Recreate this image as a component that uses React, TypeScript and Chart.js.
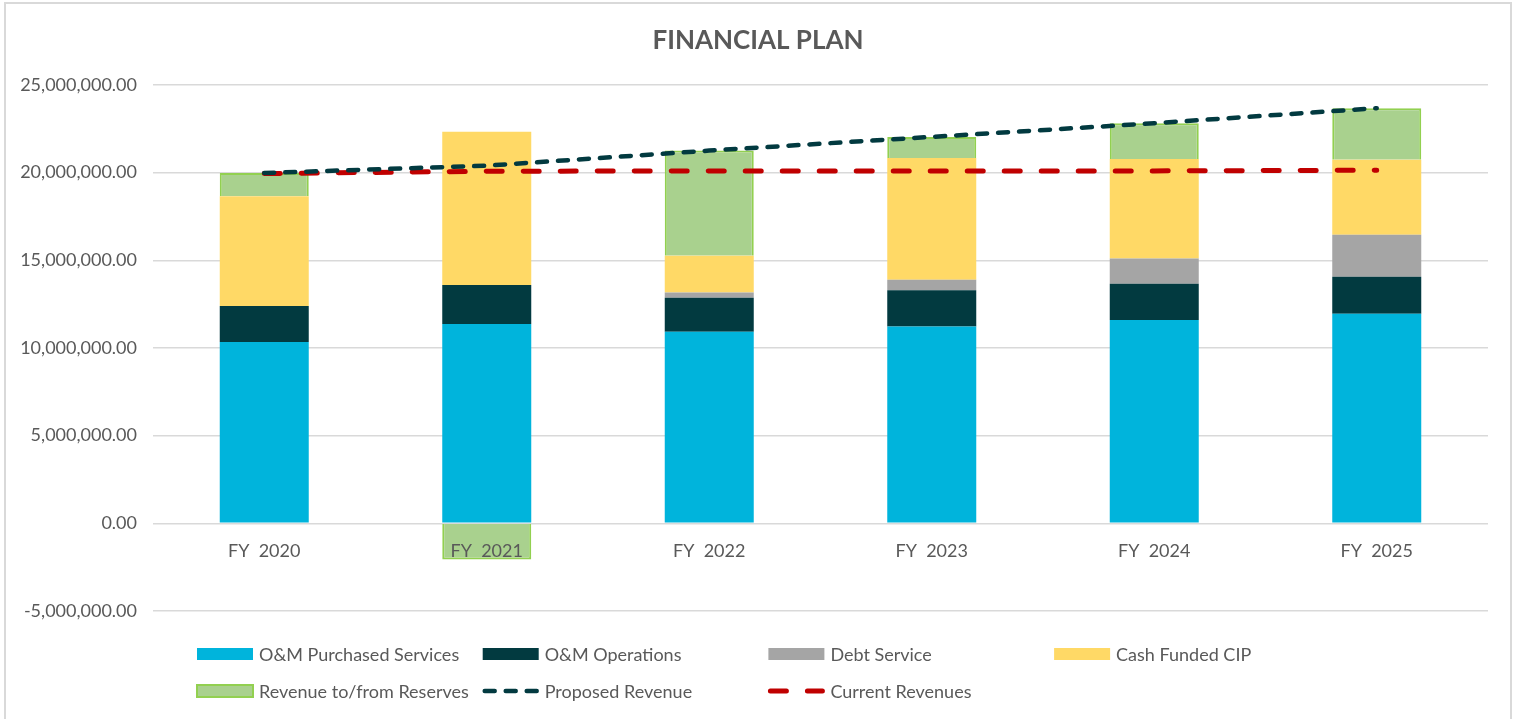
import React, { useEffect, useRef } from "react";
import { Chart, registerables } from "chart.js";

Chart.register(...registerables);

const categories = ["FY  2020", "FY  2021", "FY  2022", "FY  2023", "FY  2024", "FY  2025"];
const purchasedServices = [10340000, 11370000, 10930000, 11220000, 11600000, 11960000];
const operations = [2060000, 2230000, 1940000, 2080000, 2060000, 2110000];
const debtService = [0, 0, 290000, 590000, 1440000, 2390000];
const cashFundedCIP = [6250000, 8730000, 2100000, 6950000, 5680000, 4280000];
const reserves = [1330000, -2060000, 6000000, 1200000, 2040000, 2940000];
const proposedRevenue = [19980000, 20400000, 21260000, 22040000, 22820000, 23680000];
const currentRevenues = [19950000, 20080000, 20100000, 20100000, 20100000, 20140000];
const yTicks = [-5000000, 0, 5000000, 10000000, 15000000, 20000000, 25000000];

const FONT = "Lato, 'Open Sans', sans-serif";
const TEXT = "#595959";

const frameAndLegend = {
  id: "frameAndLegend",
  beforeDraw(chart: any) {
    const ctx = chart.ctx;
    ctx.save();
    ctx.fillStyle = "#ffffff";
    ctx.fillRect(0, 0, chart.width, chart.height);
    ctx.strokeStyle = "#d9d9d9";
    ctx.lineWidth = 2;
    ctx.strokeRect(5, 3, 1506, 740);
    ctx.restore();
  },
  afterDraw(chart: any) {
    const ctx = chart.ctx;
    ctx.save();
    // title
    ctx.fillStyle = TEXT;
    ctx.font = `bold 26px ${FONT}`;
    ctx.textAlign = "center";
    ctx.textBaseline = "middle";
    ctx.fillText("FINANCIAL PLAN", 758, 41);
    // legend
    const x0 = 197;
    const colW = 285.7;
    const rows = [654, 691];
    ctx.font = `18px ${FONT}`;
    ctx.textAlign = "left";
    chart.data.datasets.forEach((ds: any, i: number) => {
      const col = i % 4;
      const row = Math.floor(i / 4);
      const x = x0 + col * colW;
      const y = rows[row];
      if (ds.type === "line") {
        ctx.save();
        ctx.strokeStyle = ds.borderColor;
        ctx.lineWidth = ds.borderWidth;
        ctx.lineCap = "round";
        ctx.setLineDash(ds.borderDash);
        ctx.beginPath();
        ctx.moveTo(x + 2, y);
        ctx.lineTo(x + 54, y);
        ctx.stroke();
        ctx.restore();
      } else {
        ctx.fillStyle = ds.backgroundColor;
        ctx.fillRect(x, y - 6, 56, 12);
        if (ds.borderWidth) {
          ctx.strokeStyle = ds.borderColor;
          ctx.lineWidth = 2;
          ctx.strokeRect(x, y - 6, 56, 12);
        }
      }
      ctx.fillStyle = TEXT;
      ctx.fillText(ds.label, x + 62, y + 1);
    });
    ctx.restore();
  },
};

export default function App() {
  const ref = useRef<HTMLCanvasElement>(null);
  useEffect(() => {
    document.body.style.margin = "0";
    const barCommon = { type: "bar", stack: "bars", order: 1, categoryPercentage: 0.4, barPercentage: 1 };
    const chart = new Chart(ref.current as HTMLCanvasElement, {
      type: "bar",
      data: {
        labels: categories,
        datasets: [
          { ...barCommon, label: "O&M Purchased Services", data: purchasedServices, backgroundColor: "#00B4DC", borderWidth: 0 },
          { ...barCommon, label: "O&M Operations", data: operations, backgroundColor: "#023A40", borderWidth: 0 },
          { ...barCommon, label: "Debt Service", data: debtService, backgroundColor: "#A5A5A5", borderWidth: 0 },
          { ...barCommon, label: "Cash Funded CIP", data: cashFundedCIP, backgroundColor: "#FFD966", borderWidth: 0 },
          { ...barCommon, label: "Revenue to/from Reserves", data: reserves, backgroundColor: "#A9D18E", borderColor: "#92D050", borderWidth: 2 },
          {
            type: "line", label: "Proposed Revenue", data: proposedRevenue, stack: "proposed", order: 0,
            borderColor: "#023A40", borderWidth: 4.5, borderDash: [10, 11], borderCapStyle: "round",
            pointRadius: 0, fill: false, tension: 0,
          },
          {
            type: "line", label: "Current Revenues", data: currentRevenues, stack: "current", order: 0,
            borderColor: "#C00000", borderWidth: 5, borderDash: [16, 21], borderCapStyle: "round",
            pointRadius: 0, fill: false, tension: 0,
          },
        ] as any,
      },
      options: {
        animation: false,
        responsive: false,
        layout: { padding: { left: 0, right: 31, top: 85, bottom: 108 } },
        plugins: { legend: { display: false }, title: { display: false }, tooltip: { enabled: false } },
        scales: {
          x: {
            stacked: true,
            position: { y: 0 } as any,
            z: 1,
            grid: { display: false, drawTicks: false },
            border: { display: false },
            ticks: { color: TEXT, font: { family: FONT, size: 18 }, padding: 17, z: 1, autoSkip: false, maxRotation: 0 },
          },
          y: {
            stacked: true,
            min: -5000000,
            max: 25000000,
            afterFit: (scale: any) => { scale.width = 153; },
            afterBuildTicks: (scale: any) => { scale.ticks = yTicks.map((v) => ({ value: v })); },
            grid: { color: "#d9d9d9", lineWidth: 1.5, drawTicks: false },
            border: { display: false },
            ticks: {
              color: TEXT,
              font: { family: FONT, size: 18 },
              padding: 16,
              callback: (v: any) => Number(v).toLocaleString("en-US", { minimumFractionDigits: 2, maximumFractionDigits: 2 }),
            },
          },
        },
      } as any,
      plugins: [frameAndLegend],
    });
    return () => chart.destroy();
  }, []);
  return (
    <div style={{ width: 1519, height: 719, position: "relative" }}>
      <canvas ref={ref} width={1519} height={719} style={{ display: "block", width: 1519, height: 719 }} />
    </div>
  );
}
